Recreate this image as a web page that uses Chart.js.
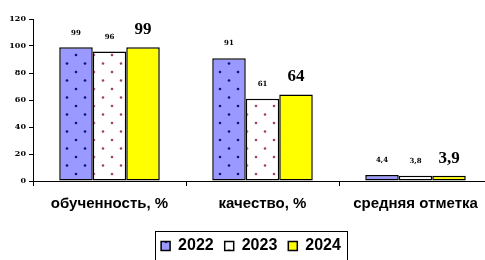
<!DOCTYPE html>
<html>
<head>
<meta charset="utf-8">
<script src="https://cdn.jsdelivr.net/npm/chart.js@4/dist/chart.umd.min.js"></script>
<style>
  html, body { margin: 0; padding: 0; background: #fff; overflow: hidden; }
  #wrap { width: 485px; height: 260px; overflow: hidden; }
</style>
</head>
<body>
<div id="wrap"><canvas id="chart" width="492" height="260"></canvas></div>
<script>
const categories = ['обученность, %', 'качество, %', 'средняя отметка'];
const years = ['2022', '2023', '2024'];
const values2022 = [99, 91, 4.4];
const values2023 = [96, 61, 3.8];
const values2024 = [99, 64, 3.9];
const yTicks = [0, 20, 40, 60, 80, 100, 120];

// dotted fills like the old office chart
function dotPattern(bg, dot) {
    const c = document.createElement('canvas');
    c.width = 18; c.height = 17;
    const g = c.getContext('2d');
    g.fillStyle = bg;
    g.fillRect(0, 0, 18, 17);
    g.fillStyle = dot;
    [[4, 4], [13, 12.5]].forEach(([x, y]) => {
        g.beginPath();
        g.arc(x, y, 1.3, 0, Math.PI * 2);
        g.fill();
    });
    return g.createPattern(c, 'repeat');
}

const fmt = v => String(v).replace('.', ',');

// value labels above the bars
const barLabels = {
    id: 'barLabels',
    afterDatasetsDraw(chart) {
        const ctx = chart.ctx;
        ctx.save();
        ctx.fillStyle = '#000';
        ctx.textAlign = 'center';
        ctx.textBaseline = 'bottom';
        chart.data.datasets.forEach((ds, i) => {
            const big = i === 2;
            ctx.font = big ? 'bold 17px "Liberation Serif"' : 'bold 7px "DejaVu Serif"';
            chart.getDatasetMeta(i).data.forEach((bar, j) => {
                ctx.fillText(fmt(ds.data[j]), bar.x, bar.y - (big ? 9 : 11));
            });
        });
        ctx.restore();
    }
};

// frame around the legend
const legendFrame = {
    id: 'legendFrame',
    afterDraw(chart) {
        const boxes = chart.legend.legendHitBoxes;
        if (!boxes || !boxes.length) return;
        const left = Math.min(...boxes.map(b => b.left)) - 6;
        const right = Math.max(...boxes.map(b => b.left + b.width)) + 6;
        const top = boxes[0].top - 7;
        const bottom = boxes[0].top + boxes[0].height + 8;
        const ctx = chart.ctx;
        ctx.save();
        ctx.strokeStyle = '#000';
        ctx.lineWidth = 1;
        ctx.strokeRect(Math.round(left) + 0.5, Math.round(top) + 0.5, Math.round(right - left), Math.round(bottom - top));
        ctx.restore();
    }
};

const ctx = document.getElementById('chart').getContext('2d');
const chart = new Chart(ctx, {
    type: 'bar',
    data: {
        labels: categories,
        datasets: [
            { label: years[0], data: values2022, backgroundColor: dotPattern('#9999ff', '#10107a') },
            { label: years[1], data: values2023, backgroundColor: dotPattern('#ffffff', '#a0406e') },
            { label: years[2], data: values2024, backgroundColor: '#ffff00' }
        ]
    },
    options: {
        responsive: false,
        animation: false,
        devicePixelRatio: 1,
        datasets: {
            bar: {
                borderColor: '#000',
                borderWidth: 1.5,
                borderSkipped: false,
                barPercentage: 1,
                categoryPercentage: 0.657
            }
        },
        layout: { padding: { top: 19, right: 0, bottom: -4, left: 10 } },
        scales: {
            x: {
                afterFit: s => { s.height += 5; },
                grid: { drawOnChartArea: false, color: '#000', tickLength: 5, tickColor: '#000' },
                border: { color: '#000', width: 1 },
                ticks: {
                    color: '#000',
                    padding: 9,
                    font: { family: '"Liberation Sans"', size: 15, weight: 'bold' }
                }
            },
            y: {
                min: 0,
                max: 120,
                afterBuildTicks: s => { s.ticks = yTicks.map(v => ({ value: v })); },
                afterFit: s => { s.width = 23; },
                grid: { drawOnChartArea: false, tickLength: 4, tickColor: '#000' },
                border: { color: '#000', width: 1 },
                ticks: {
                    color: '#000',
                    padding: 3,
                    font: { family: '"DejaVu Serif"', size: 8, weight: 'bold' }
                }
            }
        },
        plugins: {
            legend: {
                position: 'bottom',
                labels: {
                    color: '#000',
                    boxWidth: 9,
                    boxHeight: 9,
                    padding: 11,
                    font: { family: '"Liberation Sans"', size: 16, weight: 'bold' }
                }
            },
            tooltip: { enabled: false }
        }
    },
    plugins: [barLabels, legendFrame]
});
</script>
</body>
</html>
